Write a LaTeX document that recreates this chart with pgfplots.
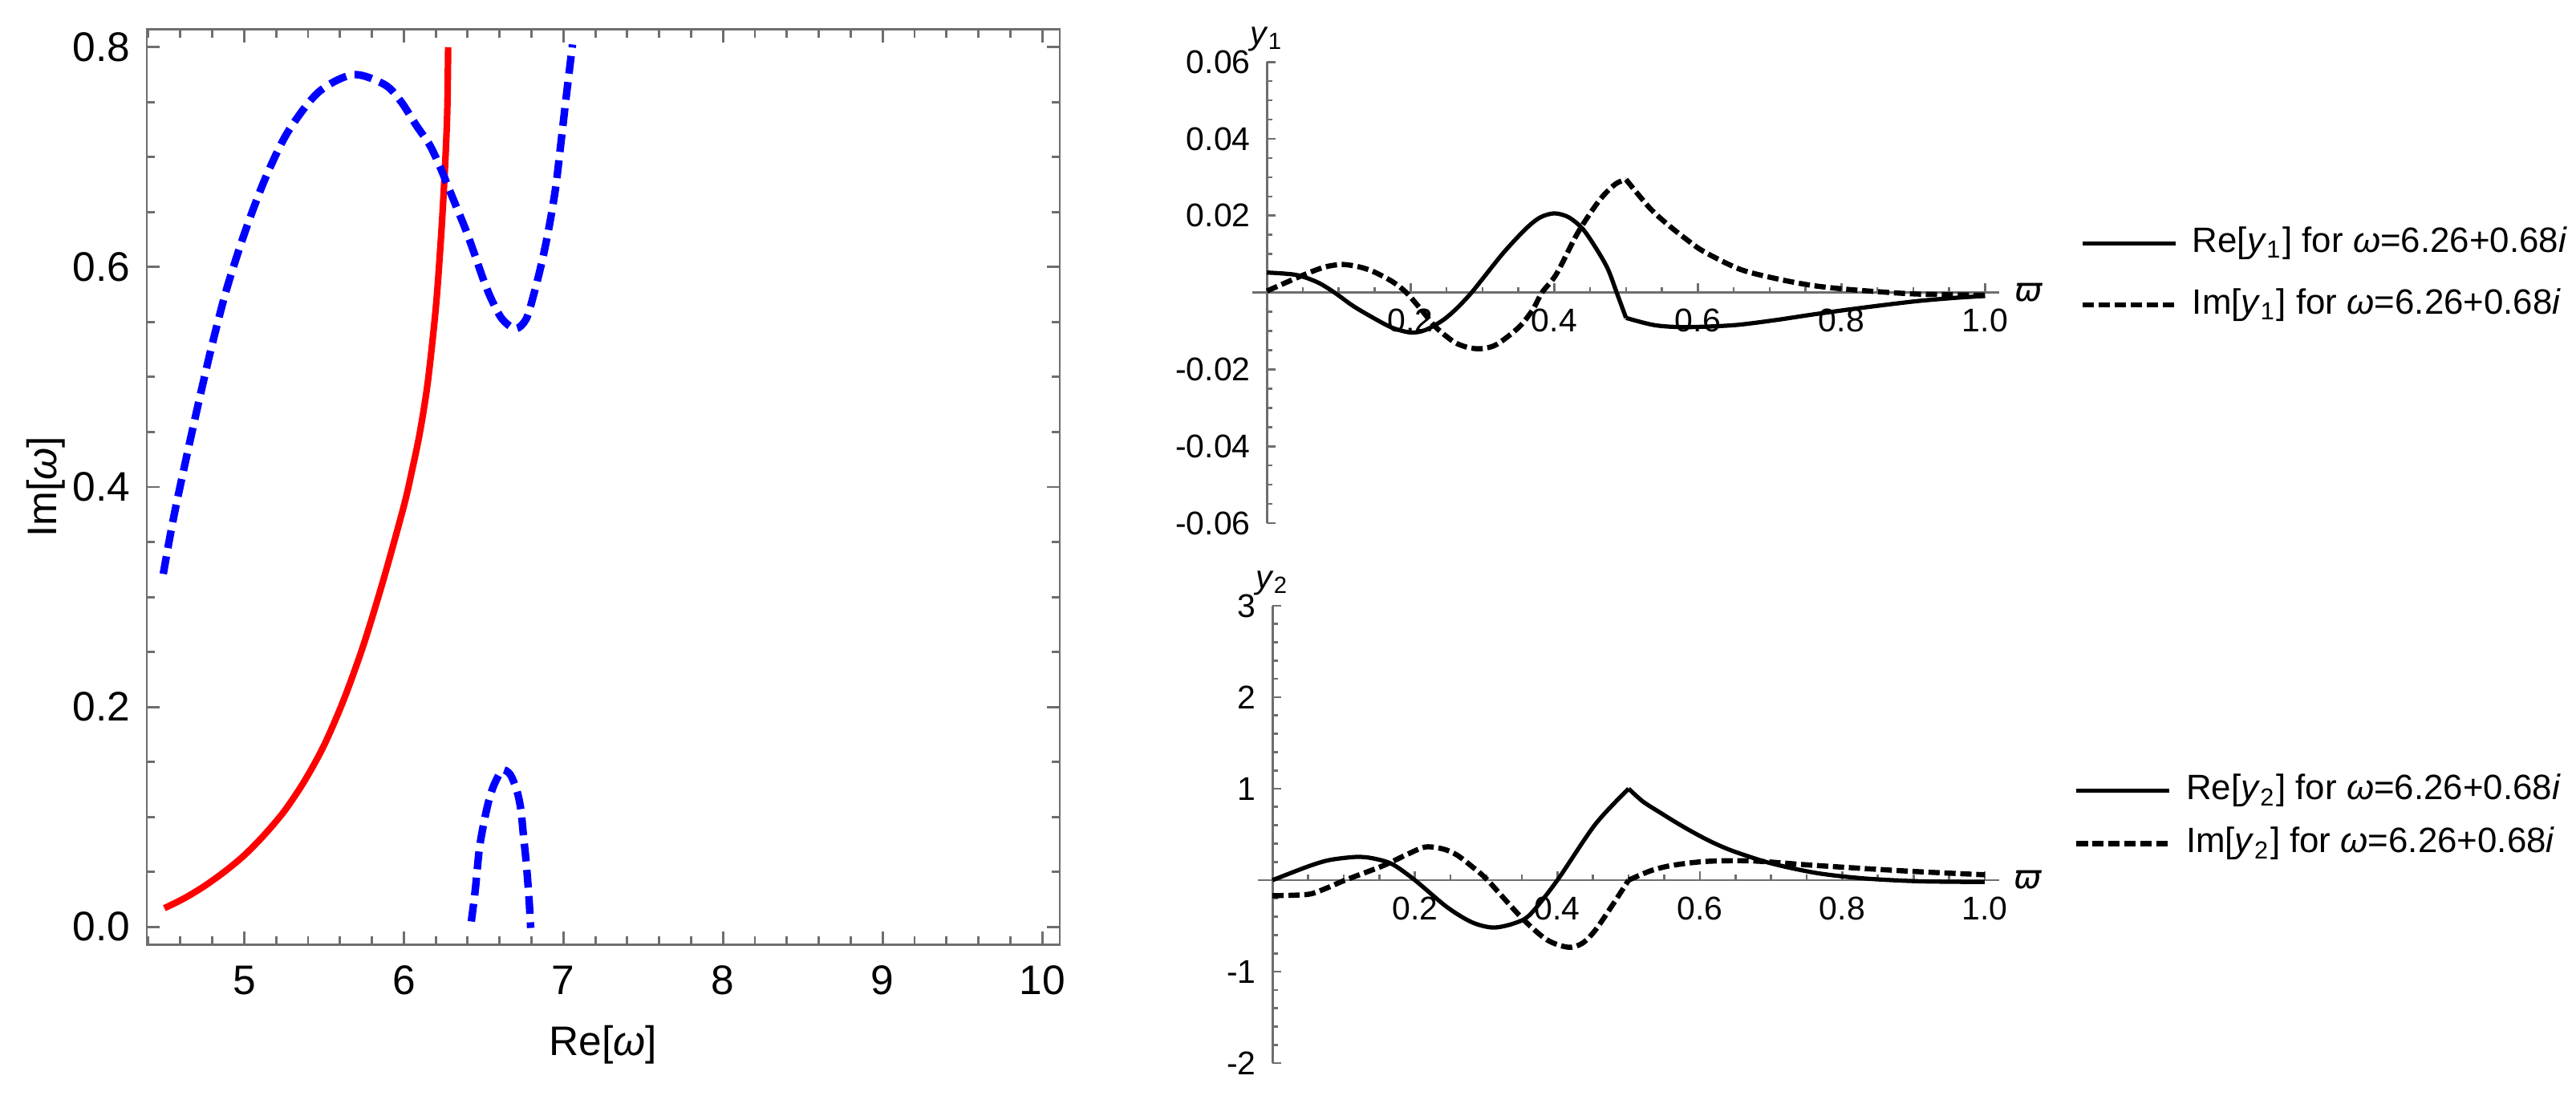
\documentclass[border=0pt]{standalone}
\usepackage{fontspec}
\setmainfont{Liberation Sans}
\newfontfamily\dejavu{DejaVu Sans}
\usepackage{pgfplots}
\pgfplotsset{compat=1.18}
\definecolor{axgray}{RGB}{110,110,110}
\newcommand\leftfont{\fontsize{8.8}{10}\selectfont}
\newcommand\rightfont{\fontsize{7}{8.4}\selectfont}
\newcommand\legfont{\fontsize{7.5}{9}\selectfont}

\pgfplotsset{
  rpanel/.style={
    scale only axis,
    axis lines*=middle,
    axis line style={axgray, line width=0.5pt},
    tick style={axgray, line width=0.45pt},
    tick align=inside,
    major tick length=1.9pt, minor tick length=1.2pt,
    xmin=-0.02, xmax=1.02,
    xtick={0.2,0.4,0.6,0.8,1.0},
    minor xtick={0.05,0.1,0.15,0.25,0.3,0.35,0.45,0.5,0.55,0.65,0.7,0.75,0.85,0.9,0.95},
    xticklabel style={/pgf/number format/fixed, /pgf/number format/fixed zerofill, /pgf/number format/precision=1},
    /pgf/number format/assume math mode=true,
    scaled ticks=false,
    tick label style={font=\rightfont},
    xlabel={{\dejavu\itshape ϖ}},
    legend cell align=left,
    legend style={draw=none, fill=none, font=\legfont, anchor=west, inner sep=0pt,
      nodes={inner sep=0.6pt}},
    /tikz/every odd column/.append style={column sep=2.4pt},
    legend image code/.code={\draw[#1] (0pt,0pt) -- (19.8pt,0pt);},
  },
  resolid/.style={black, line width=0.9pt, smooth, tension=0.5},
  imdash/.style={black, line width=1.1pt, dash pattern=on 2.4pt off 1pt, smooth, tension=0.5},
}

\begin{document}
\begin{tikzpicture}
\useasboundingbox (0,0) rectangle (549.1pt,236pt);

% left: Re/Im of omega
\begin{axis}[
  at={(31.3pt,34.7pt)}, anchor=south west,
  scale only axis, width=194.6pt, height=195pt,
  xmin=4.39, xmax=10.11, ymin=-0.016, ymax=0.816,
  axis line style={axgray, line width=0.5pt},
  tick style={axgray, line width=0.5pt},
  tick align=inside,
  major tick length=2.7pt, minor tick length=1.7pt,
  xtick={5,6,7,8,9,10},
  minor xtick={4.4,4.6,4.8,5.2,5.4,5.6,5.8,6.2,6.4,6.6,6.8,7.2,7.4,7.6,7.8,8.2,8.4,8.6,8.8,9.2,9.4,9.6,9.8},
  ytick={0,0.2,0.4,0.6,0.8},
  minor ytick={0.05,0.1,0.15,0.25,0.3,0.35,0.45,0.5,0.55,0.65,0.7,0.75},
  yticklabel style={/pgf/number format/fixed, /pgf/number format/fixed zerofill, /pgf/number format/precision=1},
  /pgf/number format/assume math mode=true,
  tick label style={font=\leftfont},
  xticklabel style={yshift=-1pt},
  xlabel={Re[\textit{ω}]},
  ylabel={Im[\textit{ω}]},
  every axis x label/.style={at={(axis description cs:0.5,0)}, anchor=center, yshift=-21.4pt, font=\leftfont},
  every axis y label/.style={at={(axis description cs:-0.1105,0.5)}, anchor=center, rotate=90, font=\leftfont},
]
\addplot[red, line width=1.4pt, smooth, tension=0.5] coordinates {
  (4.5,0.017) (4.625,0.026) (4.75,0.037) (4.875,0.050) (5.0,0.065) (5.125,0.0835)
  (5.25,0.105) (5.375,0.132) (5.5,0.165) (5.625,0.207) (5.75,0.2575) (5.875,0.317)
  (6.0,0.3825) (6.05,0.414) (6.1,0.449) (6.15,0.495) (6.2,0.562) (6.23,0.620)
  (6.25,0.668) (6.265,0.712) (6.273,0.746) (6.278,0.800)
};
\addplot[blue, line width=1.6pt, dash pattern=on 3.8pt off 1.8pt, smooth, tension=0.5] coordinates {
  (4.493,0.321) (4.53,0.351) (4.57,0.381) (4.647,0.433) (4.724,0.483) (4.80,0.530)
  (4.89,0.580) (5.005,0.632) (5.133,0.681) (5.274,0.723) (5.465,0.759) (5.683,0.775)
  (5.879,0.766) (5.980,0.751) (6.080,0.7285) (6.164,0.7106) (6.231,0.6898) (6.281,0.6719)
  (6.340,0.6511) (6.390,0.6332) (6.449,0.6094) (6.499,0.5885) (6.549,0.5707)
  (6.616,0.5528) (6.700,0.5439) (6.767,0.5528) (6.817,0.5766) (6.868,0.6064)
  (6.910,0.6362) (6.951,0.6719) (6.985,0.7136) (7.018,0.7553) (7.057,0.8024)
};
\addplot[blue, line width=1.6pt, dash pattern=on 3.8pt off 1.8pt, smooth, tension=0.5] coordinates {
  (6.423,0.0049) (6.448,0.034) (6.473,0.0706) (6.502,0.0949) (6.532,0.1144)
  (6.565,0.129) (6.616,0.1423) (6.666,0.1387) (6.708,0.1241) (6.733,0.107)
  (6.750,0.0827) (6.767,0.0584) (6.784,0.0268) (6.795,-0.001)
};
\end{axis}

% top right: y1
\begin{axis}[rpanel,
  at={(267.0pt,124.5pt)}, anchor=south west,
  width=159.2pt, height=98.3pt,
  ymin=-0.06, ymax=0.06,
  ytick={-0.06,-0.04,-0.02,0.02,0.04,0.06},
  minor ytick={-0.055,-0.05,-0.045,-0.035,-0.03,-0.025,-0.015,-0.01,-0.005,0.005,0.01,0.015,0.025,0.03,0.035,0.045,0.05,0.055},
  yticklabel style={/pgf/number format/fixed, /pgf/number format/fixed zerofill, /pgf/number format/precision=2},
  ylabel={\textit{y}\textsubscript{1}},
  every axis x label/.style={at={(axis description cs:1,0.5)}, anchor=west, inner sep=3pt, font=\rightfont},
  every axis y label/.style={at={(axis description cs:0.0192,1)}, anchor=south, inner sep=2pt, font=\rightfont},
  legend style={at={(1.107,0.54)}, row sep=5pt},
]
\addplot[resolid] coordinates {
  (0,0.0052) (0.04,0.0046) (0.07,0.0027) (0.094,0) (0.12,-0.0035) (0.15,-0.0068)
  (0.175,-0.0092) (0.2,-0.0104) (0.22,-0.0098) (0.245,-0.0072) (0.265,-0.004)
  (0.285,0) (0.30,0.0035) (0.33,0.0105) (0.36,0.0165) (0.38,0.0195) (0.40,0.0206)
  (0.42,0.0196) (0.44,0.0165) (0.46,0.011) (0.475,0.006) (0.487,0.0) (0.5,-0.0066)
};
\addlegendentry{Re[\textit{y}\textsubscript{1}] for \textit{ω}=6.26+0.68\textit{i}}
\addplot[resolid, forget plot] coordinates {
  (0.5,-0.0066) (0.54,-0.0085) (0.583,-0.0090) (0.65,-0.0085) (0.707,-0.0072)
  (0.757,-0.0058) (0.807,-0.0045) (0.857,-0.0033) (0.907,-0.0022) (0.957,-0.0014)
  (1.0,-0.0009)
};
\addplot[imdash] coordinates {
  (0,0.0004) (0.05,0.0045) (0.08,0.0066) (0.105,0.0073) (0.13,0.0066) (0.15,0.0053)
  (0.175,0.0028) (0.194,0) (0.215,-0.0045) (0.235,-0.009) (0.26,-0.0128) (0.28,-0.0143)
  (0.299,-0.0146) (0.32,-0.0135) (0.351,-0.009) (0.37,-0.0045) (0.383,0) (0.403,0.0048)
  (0.433,0.0156) (0.463,0.024) (0.485,0.0282) (0.5,0.0294)
};
\addlegendentry{Im[\textit{y}\textsubscript{1}] for \textit{ω}=6.26+0.68\textit{i}}
\addplot[imdash, forget plot] coordinates {
  (0.5,0.0294) (0.533,0.022) (0.558,0.0177) (0.583,0.014) (0.608,0.0107) (0.658,0.0061)
  (0.707,0.0037) (0.757,0.0019) (0.807,0.00085) (0.857,0.00014) (0.907,-0.0004)
  (1.0,-0.0007)
};
\end{axis}

% bottom right: y2
\begin{axis}[rpanel,
  at={(268.2pt,9.4pt)}, anchor=south west,
  width=157.9pt, height=97.5pt,
  ymin=-2, ymax=3,
  ytick={-2,-1,1,2,3},
  minor ytick={-1.8,-1.6,-1.4,-1.2,-0.8,-0.6,-0.4,-0.2,0.2,0.4,0.6,0.8,1.2,1.4,1.6,1.8,2.2,2.4,2.6,2.8},
  ylabel={\textit{y}\textsubscript{2}},
  every axis x label/.style={at={(axis description cs:1,0.4)}, anchor=west, inner sep=3pt, font=\rightfont},
  every axis y label/.style={at={(axis description cs:0.0192,1)}, anchor=south, inner sep=2pt, font=\rightfont},
  legend style={at={(1.100,0.538)}, row sep=3.2pt},
]
\addplot[resolid] coordinates {
  (0,0) (0.05,0.15) (0.08,0.22) (0.117,0.254) (0.14,0.24) (0.168,0.176) (0.2,0)
  (0.245,-0.294) (0.28,-0.46) (0.31,-0.518) (0.34,-0.47) (0.362,-0.373) (0.40,0)
  (0.453,0.608) (0.5,1.0)
};
\addlegendentry{Re[\textit{y}\textsubscript{2}] for \textit{ω}=6.26+0.68\textit{i}}
\addplot[resolid, forget plot] coordinates {
  (0.5,1.0) (0.52,0.86) (0.544,0.74) (0.57,0.615) (0.596,0.5) (0.62,0.405)
  (0.648,0.314) (0.70,0.184) (0.764,0.078) (0.829,0.02) (0.907,-0.012) (1.0,-0.02)
};
\addplot[imdash] coordinates {
  (0,-0.17) (0.05,-0.155) (0.075,-0.09) (0.102,0) (0.155,0.157) (0.19,0.285)
  (0.215,0.363) (0.24,0.34) (0.259,0.275) (0.28,0.15) (0.302,0) (0.35,-0.412)
  (0.385,-0.65) (0.415,-0.733) (0.435,-0.69) (0.453,-0.549) (0.475,-0.3) (0.5,0.0)
};
\addlegendentry{Im[\textit{y}\textsubscript{2}] for \textit{ω}=6.26+0.68\textit{i}}
\addplot[imdash, forget plot] coordinates {
  (0.5,0.0) (0.53,0.1) (0.56,0.16) (0.609,0.205) (0.674,0.21) (0.764,0.16)
  (0.894,0.098) (1.0,0.059)
};
\end{axis}
\end{tikzpicture}
\end{document}
